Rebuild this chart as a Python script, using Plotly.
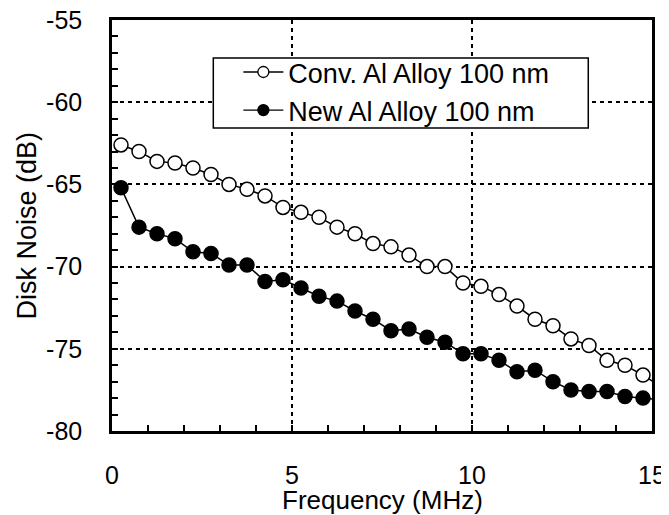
"""
Disk noise vs frequency for conventional and new Al alloy underlayers.
"""

import plotly.graph_objects as go

# frequency points (MHz)
FREQ = [0.25, 0.75, 1.25, 1.75, 2.25, 2.75, 3.25, 3.75, 4.25, 4.75,
        5.25, 5.75, 6.25, 6.75, 7.25, 7.75, 8.25, 8.75, 9.25, 9.75,
        10.25, 10.75, 11.25, 11.75, 12.25, 12.75, 13.25, 13.75, 14.25, 14.75,
        15.25]

# disk noise (dB)
CONV_NOISE = [-62.6, -63.0, -63.6, -63.7, -64.0, -64.4, -65.0, -65.3, -65.7, -66.4,
              -66.7, -67.0, -67.6, -68.0, -68.6, -68.8, -69.3, -70.0, -70.0, -71.0,
              -71.2, -71.7, -72.4, -73.2, -73.6, -74.4, -74.8, -75.7, -76.0, -76.6,
              -77.3]
NEW_NOISE = [-65.2, -67.6, -68.0, -68.3, -69.1, -69.2, -69.9, -69.9, -70.9, -70.8,
             -71.3, -71.8, -72.1, -72.7, -73.2, -73.9, -73.8, -74.3, -74.6, -75.3,
             -75.3, -75.7, -76.4, -76.3, -77.0, -77.5, -77.6, -77.6, -77.9, -78.0,
             -78.1]

SERIES_NAMES = ["Conv. Al Alloy 100 nm", "New Al Alloy 100 nm"]
FILLS = ["white", "black"]

# tick labels (plain hyphen as in the original)
X_TICKS = [0, 5, 10, 15]
X_LABELS = ["0", "5", "10", "15"]
Y_TICKS = [-80, -75, -70, -65, -60, -55]
Y_LABELS = ["-80", "-75", "-70", "-65", "-60", "-55"]

X_TITLE = "Frequency (MHz)"
Y_TITLE = "Disk Noise (dB)"

FONT = "Liberation Sans, Arial, sans-serif"

fig = go.Figure()

for name, fill, noise in zip(SERIES_NAMES, FILLS, [CONV_NOISE, NEW_NOISE]):
    fig.add_trace(
        go.Scatter(
            x=FREQ,
            y=noise,
            mode="lines+markers",
            name=name,
            line=dict(color="black", width=1.5),
            marker=dict(symbol="circle", size=14, color=fill,
                        line=dict(color="black", width=1.5)),
            showlegend=False,
        )
    )

# legend-only traces (smaller symbols, as in the original legend)
for name, fill in zip(SERIES_NAMES, FILLS):
    fig.add_trace(
        go.Scatter(
            x=[None],
            y=[None],
            mode="lines+markers",
            name=name,
            line=dict(color="black", width=1.3),
            marker=dict(symbol="circle", size=11, color=fill,
                        line=dict(color="black", width=1.3)),
            showlegend=True,
        )
    )

axis_common = dict(
    showline=True,
    linecolor="black",
    linewidth=2.5,
    mirror=True,
    ticks="inside",
    ticklen=6,
    tickwidth=1.5,
    tickcolor="black",
    showgrid=True,
    gridcolor="black",
    gridwidth=2,
    griddash="4px,4px",
    zeroline=False,
    automargin=False,
    ticklabeloverflow="allow",
    tickfont=dict(family=FONT, size=25, color="black"),
)

fig.update_xaxes(
    range=[0, 15],
    tickvals=X_TICKS,
    ticktext=X_LABELS,
    minor=dict(dtick=1, ticks="inside", ticklen=6, tickwidth=1.5,
               tickcolor="black", showgrid=False),
    ticklabelstandoff=20,
    **axis_common,
)
fig.update_yaxes(
    range=[-80, -55],
    tickvals=Y_TICKS,
    ticktext=Y_LABELS,
    minor=dict(dtick=1, ticks="inside", ticklen=6, tickwidth=1.5,
               tickcolor="black", showgrid=False),
    ticklabelstandoff=22,
    **axis_common,
)

# axis titles as annotations so they can sit close to the page edges
fig.add_annotation(
    text=X_TITLE, xref="paper", yref="paper", x=0.5, y=0,
    xanchor="center", yanchor="middle", yshift=-69, showarrow=False,
    font=dict(family=FONT, size=26, color="black"),
)
fig.add_annotation(
    text=Y_TITLE, xref="paper", yref="paper", x=0, y=0.5, textangle=-90,
    xanchor="center", yanchor="middle", xshift=-86, showarrow=False,
    font=dict(family=FONT, size=27, color="black"),
)

# legend frame: white box that hides the grid behind the legend
fig.add_shape(
    type="rect",
    xref="paper", yref="paper",
    x0=0.1876, x1=0.882, y0=0.737, y1=0.9075,
    fillcolor="white",
    line=dict(color="black", width=1.5),
    layer="above",
)

# page body has an 8px margin, so the figure is 8px smaller and margins shifted
fig.update_layout(
    width=661,
    height=507,
    paper_bgcolor="white",
    plot_bgcolor="white",
    margin=dict(l=104, r=17, t=12, b=84),
    font=dict(family=FONT, size=25, color="black"),
    legend=dict(
        x=0.234,
        y=0.932,
        xanchor="left",
        yanchor="top",
        bgcolor="rgba(0,0,0,0)",
        borderwidth=0,
        font=dict(family=FONT, size=27, color="black"),
        tracegroupgap=0,
        itemwidth=40,
    ),
)

fig.write_html("out.html")
